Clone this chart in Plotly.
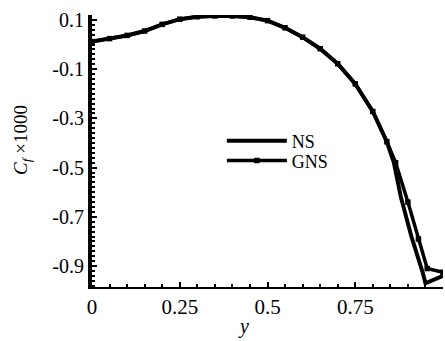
import plotly.graph_objects as go

# Shared part of the skin-friction profile (both solvers agree here)
y_common = [0.0, 0.05, 0.1, 0.15, 0.2, 0.25, 0.3, 0.35, 0.4, 0.45, 0.5,
            0.55, 0.6, 0.65, 0.7, 0.75, 0.8, 0.84]
cf_common = [0.012, 0.024, 0.037, 0.055, 0.082, 0.103, 0.113, 0.116, 0.116,
             0.111, 0.097, 0.068, 0.030, -0.017, -0.078, -0.160, -0.272, -0.395]

# Near-tip branches
y_ns_tip = [0.86, 0.88, 0.91, 0.943, 0.95, 1.0]
cf_ns_tip = [-0.48, -0.62, -0.78, -0.93, -0.97, -0.94]
y_gns_tip = [0.865, 0.90, 0.93, 0.955, 1.0]
cf_gns_tip = [-0.48, -0.64, -0.79, -0.91, -0.925]

y_ns = y_common + y_ns_tip
cf_ns = cf_common + cf_ns_tip
y_gns = y_common + y_gns_tip
cf_gns = cf_common + cf_gns_tip

x_tickvals = [0, 0.25, 0.5, 0.75, 1]
x_ticktext = ["0", "0.25", "0.5", "0.75", "1"]
y_tickvals = [0.1, -0.1, -0.3, -0.5, -0.7, -0.9]
y_ticktext = ["0.1", "-0.1", "-0.3", "-0.5", "-0.7", "-0.9"]

serif = "Liberation Serif"
legend_style = dict(xanchor="left", yanchor="top", bgcolor="rgba(0,0,0,0)",
                    font=dict(family=serif, size=18), itemwidth=60)

fig = go.Figure()
fig.add_trace(go.Scatter(x=y_ns, y=cf_ns, mode="lines", name="NS",
                         legend="legend",
                         line=dict(color="black", width=4)))
fig.add_trace(go.Scatter(x=y_gns, y=cf_gns, mode="lines+markers", name="GNS",
                         legend="legend2",
                         line=dict(color="black", width=3.5),
                         marker=dict(symbol="square", size=5.5, color="black")))

fig.update_layout(
    width=445, height=341,
    margin=dict(l=92, r=2, t=15, b=54),
    paper_bgcolor="white", plot_bgcolor="white",
    font=dict(family=serif, size=18, color="black"),
    showlegend=True,
    legend=dict(x=0.37, y=0.605, **legend_style),
    legend2=dict(x=0.37, y=0.532, **legend_style),
    xaxis=dict(range=[0, 1], showgrid=False, zeroline=False,
               showline=True, linecolor="black", linewidth=2,
               tickmode="array", tickvals=x_tickvals, ticktext=x_ticktext,
               ticks="inside", ticklen=5, tickwidth=2, tickcolor="black",
               tickfont=dict(family=serif, size=21),
               minor=dict(dtick=0.05, tick0=0, ticks="inside", ticklen=3,
                          tickwidth=2, tickcolor="black")),
    yaxis=dict(range=[-0.985, 0.12], showgrid=False, zeroline=False,
               showline=True, linecolor="black", linewidth=4,
               tickmode="array", tickvals=y_tickvals, ticktext=y_ticktext,
               ticks="inside", ticklen=5, tickwidth=2, tickcolor="black",
               tickfont=dict(family=serif, size=20),
               minor=dict(dtick=0.02, tick0=0.1, ticks="inside", ticklen=3,
                          tickwidth=1.5, tickcolor="black")),
    annotations=[
        dict(text="<i>C</i><sub><i>f</i></sub> ×1000", xref="paper", yref="paper",
             x=-0.2, y=0.54, xanchor="center", yanchor="middle",
             textangle=-90, showarrow=False,
             font=dict(family=serif, size=19)),
        dict(text="<i>y</i>", xref="paper", yref="paper",
             x=0.433, y=-0.147, xanchor="center", yanchor="middle",
             showarrow=False, font=dict(family=serif, size=20)),
    ],
)

fig.write_html("out.html")
